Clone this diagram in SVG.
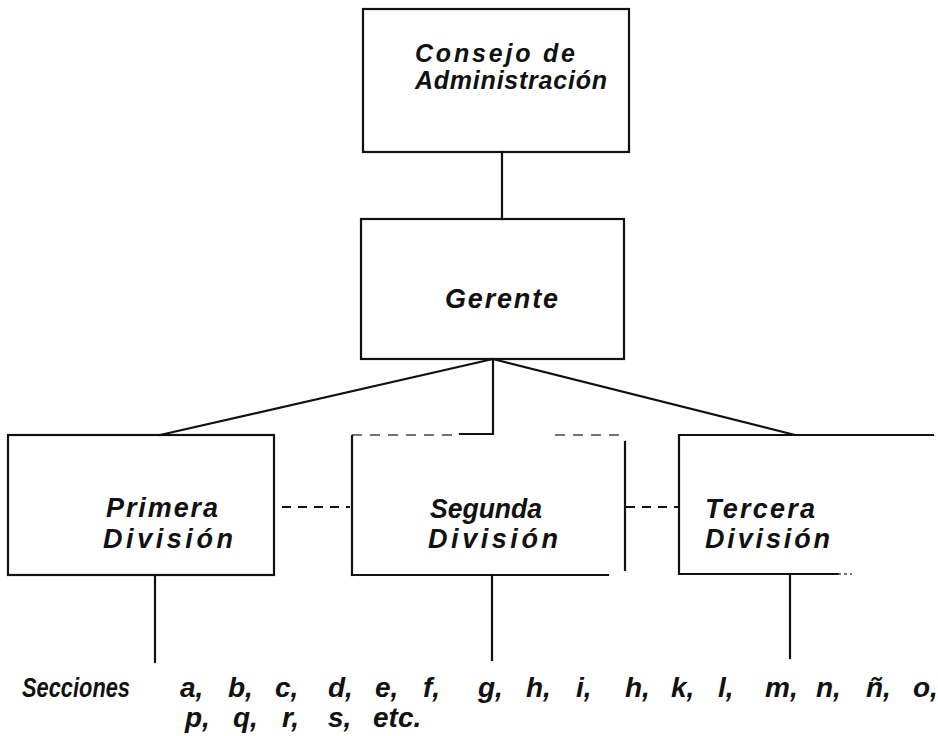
<svg xmlns="http://www.w3.org/2000/svg" width="938" height="736" viewBox="0 0 938 736">
<style>
.ln{stroke:#111;stroke-width:2.2;fill:none;stroke-linecap:square}
.faint{stroke:#444;stroke-width:1.4;fill:none;stroke-dasharray:10 8}
.dash{stroke:#111;stroke-width:2;fill:none;stroke-dasharray:9 7}
.t{font-family:"Liberation Sans","DejaVu Sans",sans-serif;font-style:italic;font-weight:bold;font-size:27px;fill:#111}
.s{font-size:25px}
.l{font-size:28px}
</style>
<rect width="938" height="736" fill="#fff"/>
<g id="connectors">
<line class="ln" x1="502" y1="152" x2="502" y2="219"/>
<line class="ln" x1="493" y1="359" x2="160" y2="435"/>
<line class="ln" x1="493" y1="359" x2="795" y2="435"/>
<polyline class="ln" points="493,359 493,434 460,434"/>
<line class="dash" x1="282" y1="507" x2="350" y2="507"/>
<line class="dash" x1="626" y1="507" x2="679" y2="507"/>
<line class="ln" x1="155" y1="575" x2="155" y2="662"/>
<line class="ln" x1="492" y1="575" x2="492" y2="660"/>
<line class="ln" x1="790" y1="574" x2="790" y2="658"/>
</g>
<g id="consejo">
<rect class="ln" x="363" y="9" width="266" height="143"/>
<text class="t s" x="415" y="62" textLength="160" lengthAdjust="spacing">Consejo de</text>
<text class="t s" x="415" y="89" textLength="192" lengthAdjust="spacing">Administración</text>
</g>
<g id="gerente">
<rect class="ln" x="361" y="219" width="263" height="140"/>
<text class="t" x="445" y="308" textLength="113" lengthAdjust="spacing">Gerente</text>
</g>
<g id="primera">
<rect class="ln" x="8" y="435" width="266" height="140"/>
<text class="t" x="106" y="517" textLength="112" lengthAdjust="spacing">Primera</text>
<text class="t" x="103" y="548" textLength="130" lengthAdjust="spacing">División</text>
</g>
<g id="segunda">
<line class="faint" x1="352" y1="435" x2="460" y2="435"/>
<line class="faint" x1="555" y1="435" x2="625" y2="435"/>
<line class="ln" x1="352" y1="436" x2="352" y2="575"/>
<line class="ln" x1="352" y1="575" x2="608" y2="575"/>
<line class="ln" x1="625" y1="442" x2="625" y2="570"/>
<text class="t" x="430" y="518" textLength="112" lengthAdjust="spacingAndGlyphs">Segunda</text>
<text class="t" x="428" y="548" textLength="130" lengthAdjust="spacing">División</text>
</g>
<g id="tercera">
<polyline class="ln" points="933,435 679,435 679,574 838,574"/>
<line class="faint" x1="838" y1="574" x2="852" y2="574" style="stroke-dasharray:3 3"/>
<text class="t" x="705" y="518" textLength="110" lengthAdjust="spacing">Tercera</text>
<text class="t" x="705" y="548" textLength="125" lengthAdjust="spacing">División</text>
</g>
<g id="secciones">
<text class="t l" x="22" y="697" textLength="108" lengthAdjust="spacingAndGlyphs">Secciones</text>
<text class="t l" y="697"><tspan x="180">a,</tspan><tspan x="228">b,</tspan><tspan x="275">c,</tspan><tspan x="328">d,</tspan><tspan x="375">e,</tspan><tspan x="423">f,</tspan><tspan x="478">g,</tspan><tspan x="526">h,</tspan><tspan x="576">i,</tspan><tspan x="625">h,</tspan><tspan x="671">k,</tspan><tspan x="718">l,</tspan><tspan x="765">m,</tspan><tspan x="816">n,</tspan><tspan x="866">ñ,</tspan><tspan x="913">o,</tspan></text>
<text class="t l" y="727"><tspan x="185">p,</tspan><tspan x="233">q,</tspan><tspan x="282">r,</tspan><tspan x="328">s,</tspan><tspan x="373">etc.</tspan></text>
</g>
</svg>
